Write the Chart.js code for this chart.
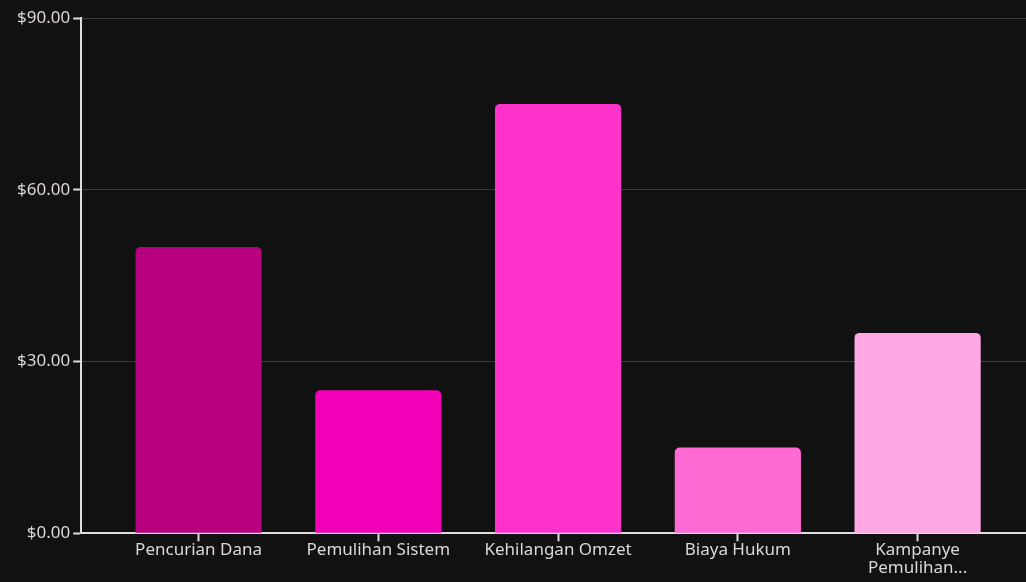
<!DOCTYPE html>
<html>
<head>
<meta charset="utf-8">
<script src="https://cdn.jsdelivr.net/npm/chart.js@4/dist/chart.umd.min.js"></script>
<style>
    html, body { margin: 0; padding: 0; background: #111111; }
    #wrap { width: 1026px; height: 582px; }
</style>
</head>
<body>
<div id="wrap"><canvas id="bar-chart"></canvas></div>
<script>
let categories = ["Pencurian Dana", "Pemulihan Sistem", "Kehilangan Omzet", "Biaya Hukum", "Kampanye Pemulihan..."];
let lossValues = [50, 25, 75, 15, 35];
let barColors = ["#b8007f", "#f200b8", "#ff33cc", "#ff6ad5", "#ffa8e6"];
let yTicks = [0, 30, 60, 90];

let axisColor = "#e2dce0";
let textColor = "#ddd6da";
let tickFont = { family: "'Noto Sans', sans-serif", size: 17, lineHeight: 1.05 };

Chart.defaults.color = textColor;

let barChartEl = document.getElementById('bar-chart');

// bars sit on a numeric x so the plot frame can run wider than the bar group
let barData = lossValues.map((v, i) => ({ x: i, y: v }));

let config = {
    type: "bar",
    data: {
        datasets: [
            {
                data: barData,
                backgroundColor: barColors,
                borderRadius: 5,
                borderSkipped: "start",
                categoryPercentage: 0.78,
                barPercentage: 0.9,
            },
        ],
    },
    options: {
        responsive: true,
        maintainAspectRatio: false,
        animation: false,
        layout: {
            padding: { top: 18, left: 14, right: 0, bottom: 5 }
        },
        plugins: {
            legend: { display: false },
            tooltip: { enabled: false }
        },
        scales: {
            x: {
                type: "linear",
                offset: false,
                min: -0.653,
                max: 4.603,
                grid: {
                    offset: false,
                    color: "transparent",
                    tickColor: axisColor,
                    tickWidth: 2,
                    tickLength: 8
                },
                border: { color: axisColor, width: 2 },
                afterBuildTicks: (axis) => {
                    axis.ticks = categories.map((c, i) => ({ value: i }));
                },
                ticks: {
                    padding: 0,
                    maxRotation: 0,
                    autoSkip: false,
                    font: tickFont,
                    callback: function (value) {
                        let label = categories[value];
                        if (label && label.length > 18) {
                            let cut = label.indexOf(" ");
                            return [label.slice(0, cut), label.slice(cut + 1)];
                        }
                        return label;
                    }
                }
            },
            y: {
                min: 0,
                max: 90,
                afterBuildTicks: (axis) => {
                    axis.ticks = yTicks.map(v => ({ value: v }));
                },
                grid: {
                    color: "#3a3a3a",
                    tickColor: axisColor,
                    tickWidth: 2,
                    tickLength: 8
                },
                border: { color: axisColor, width: 2 },
                ticks: {
                    padding: 3,
                    font: tickFont,
                    callback: (v) => "$" + v.toFixed(2)
                }
            }
        }
    }
};

let barChart = new Chart(barChartEl, config);
</script>
</body>
</html>
